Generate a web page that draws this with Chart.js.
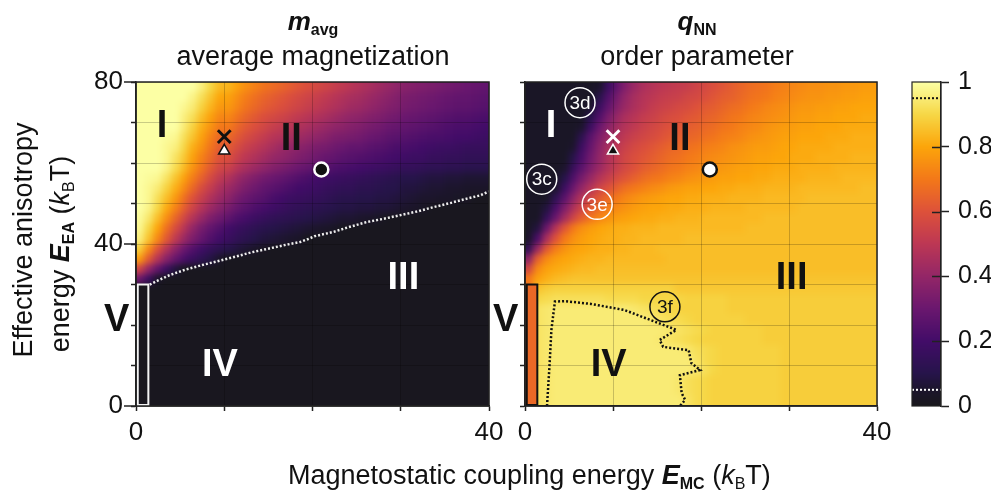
<!DOCTYPE html>
<html>
<head>
<meta charset="utf-8">
<title>Phase diagram</title>
<script src="https://cdn.jsdelivr.net/npm/chart.js@4.4.1/dist/chart.umd.min.js"></script>
<style>
  html, body { margin: 0; background: #fff; }
  #fig { position: relative; width: 998px; height: 495px; overflow: hidden;
         font-family: "Liberation Sans", Arial, sans-serif; color: #111; }
  #fig canvas { position: absolute; left: 0; top: 0; }
  .txt { position: absolute; white-space: nowrap; line-height: 30px; font-size: 27px; }
  .ctr { width: 400px; text-align: center; }
  .rot { transform: translate(-50%, -50%) rotate(-90deg); }
  .txt sub { font-size: 16px; line-height: 0; vertical-align: -5px; }
</style>
</head>
<body>
<div id="fig">
  <canvas id="mavgChart" width="998" height="495"></canvas>
  <canvas id="qnnChart" width="998" height="495"></canvas>
  <canvas id="cbarChart" width="998" height="495"></canvas>

  <div class="txt ctr" style="left:113px; top:6px; font-size:26px;"><b><i>m</i><sub>avg</sub></b></div>
  <div class="txt ctr" style="left:113px; top:41px;">average magnetization</div>
  <div class="txt ctr" style="left:497px; top:6px; font-size:26px;"><b><i>q</i><sub>NN</sub></b></div>
  <div class="txt ctr" style="left:497px; top:41px;">order parameter</div>
  <div class="txt rot" style="left:23px; top:240px;">Effective anisotropy</div>
  <div class="txt rot" style="left:60px; top:254px;">energy <b><i>E</i><sub>EA</sub></b> (<i>k</i><sub>B</sub>T)</div>
  <div class="txt" style="left:288px; top:460px;">Magnetostatic coupling energy <b><i>E</i><sub>MC</sub></b> (<i>k</i><sub>B</sub>T)</div>
</div>

<script>
const FONT = '"Liberation Sans", Arial, sans-serif';

// simulation grid: cell edges along E_MC and E_EA (kBT)
const mcEdges = [0,1,2,3,4,5,6,7,8,9,10,11,12,13,14,15,16,17,18,19,20,
                 21,22,23,24,25,26,27,28,29,30,31,32,33,34,35,36,37,38,39,40];
const eaEdges = [80,77.5,75,72.5,70,67.5,65,62.5,60,57.5,55,52.5,50,47.5,45,42.5,
                 40,37.5,35,32.5,30,27.5,25,22.5,20,17.5,15,12.5,10,7.5,5,2.5,0];

// m_avg in percent, one row per E_EA band (top row = 80..77.5)
const mAvgRows = [
  [100,100,100,100,100,100,100,96,90,84,83,79,75,72,69,67,65,63,61,59,57,55,53,51,49,47,45,43,41,39,37,36,35,34,33,32,31,30,29,28],
  [100,100,100,100,100,100,97,92,86,80,79,75,71,68,65,63,61,59,57,55,53,51,49,47,45,44,42,40,38,36,34,33,32,31,30,29,28,28,27,26],
  [100,100,100,100,100,98,95,89,83,77,77,73,69,66,63,61,59,57,55,53,51,49,47,45,43,42,40,38,36,35,33,32,31,30,29,28,27,27,26,25],
  [100,100,100,100,100,96,92,85,79,73,73,69,65,62,59,57,55,53,51,49,47,45,43,41,39,38,36,35,33,32,30,29,28,27,26,25,24,24,23,22],
  [100,100,100,100,100,95,89,82,76,70,70,66,62,59,56,53,51,49,47,45,43,41,39,38,36,35,33,32,30,29,28,27,26,25,24,23,22,22,21,20],
  [100,100,100,99,98,92,86,79,72,66,66,62,58,55,52,49,47,45,43,41,39,37,35,34,33,32,30,29,27,26,25,24,23,22,22,21,20,20,19,18],
  [100,100,100,98,96,90,82,76,69,63,62,58,54,51,48,45,42,40,38,36,34,33,31,30,28,28,26,25,24,22,22,21,20,19,18,18,17,16,16,16],
  [100,100,100,98,93,87,79,72,66,60,59,54,50,47,44,41,39,37,35,33,31,29,28,26,25,24,23,22,21,20,19,18,18,16,16,15,15,14,14,14],
  [100,100,100,97,91,84,76,69,62,56,54,49,45,42,39,36,34,32,30,28,26,25,23,22,21,20,19,18,17,16,15,15,14,13,13,12,12,11,11,11],
  [100,99,98,93,86,79,71,64,57,51,47,42,38,35,32,30,28,26,24,22,20,19,18,17,16,15,14,13,12,11,10,10,9,8,8,7,7,6,6,6],
  [100,98,95,89,82,74,66,58,52,46,42,38,34,31,28,26,24,22,20,19,18,16,15,14,14,12,12,11,10,10,8,8,7,6,6,5,5,4,4,4],
  [100,98,92,85,77,68,60,53,47,42,38,33,30,27,25,22,20,18,17,16,15,14,12,11,11,10,10,9,9,8,7,6,5,5,4,4,3,3,1,1],
  [100,97,90,81,72,63,55,48,42,37,33,29,26,23,21,19,17,15,14,13,12,11,10,9,9,8,8,7,7,6,5,4,3,1,1,1,1,1,1,1],
  [99,94,85,75,65,56,48,41,35,31,27,23,21,18,16,14,13,12,11,10,9,8,7,6,6,5,4,3,1,1,1,1,1,1,1,1,1,1,1,1],
  [98,90,80,68,58,49,40,33,28,24,20,17,15,13,11,10,9,8,7,6,5,4,3,1,1,1,1,1,1,1,1,1,1,1,1,1,1,1,1,1],
  [96,86,74,62,51,42,35,29,24,20,17,14,12,10,8,7,6,5,4,1,1,1,1,1,1,1,1,1,1,1,1,1,1,1,1,1,1,1,1,1],
  [88,74,60,48,38,30,24,19,15,12,10,8,6,4,2,1,1,1,1,1,1,1,1,1,1,1,1,1,1,1,1,1,1,1,1,1,1,1,1,1],
  [78,62,48,37,29,22,17,13,9,4,1,1,1,1,1,1,1,1,1,1,1,1,1,1,1,1,1,1,1,1,1,1,1,1,1,1,1,1,1,1],
  [55,40,28,18,8,1,1,1,1,1,1,1,1,1,1,1,1,1,1,1,1,1,1,1,1,1,1,1,1,1,1,1,1,1,1,1,1,1,1,1],
  [30,18,4,1,1,1,1,1,1,1,1,1,1,1,1,1,1,1,1,1,1,1,1,1,1,1,1,1,1,1,1,1,1,1,1,1,1,1,1,1],
  [1,1,1,1,1,1,1,1,1,1,1,1,1,1,1,1,1,1,1,1,1,1,1,1,1,1,1,1,1,1,1,1,1,1,1,1,1,1,1,1],
  [1,1,1,1,1,1,1,1,1,1,1,1,1,1,1,1,1,1,1,1,1,1,1,1,1,1,1,1,1,1,1,1,1,1,1,1,1,1,1,1],
  [1,1,1,1,1,1,1,1,1,1,1,1,1,1,1,1,1,1,1,1,1,1,1,1,1,1,1,1,1,1,1,1,1,1,1,1,1,1,1,1],
  [1,1,1,1,1,1,1,1,1,1,1,1,1,1,1,1,1,1,1,1,1,1,1,1,1,1,1,1,1,1,1,1,1,1,1,1,1,1,1,1],
  [1,1,1,1,1,1,1,1,1,1,1,1,1,1,1,1,1,1,1,1,1,1,1,1,1,1,1,1,1,1,1,1,1,1,1,1,1,1,1,1],
  [1,1,1,1,1,1,1,1,1,1,1,1,1,1,1,1,1,1,1,1,1,1,1,1,1,1,1,1,1,1,1,1,1,1,1,1,1,1,1,1],
  [1,1,1,1,1,1,1,1,1,1,1,1,1,1,1,1,1,1,1,1,1,1,1,1,1,1,1,1,1,1,1,1,1,1,1,1,1,1,1,1],
  [1,1,1,1,1,1,1,1,1,1,1,1,1,1,1,1,1,1,1,1,1,1,1,1,1,1,1,1,1,1,1,1,1,1,1,1,1,1,1,1],
  [1,1,1,1,1,1,1,1,1,1,1,1,1,1,1,1,1,1,1,1,1,1,1,1,1,1,1,1,1,1,1,1,1,1,1,1,1,1,1,1],
  [1,1,1,1,1,1,1,1,1,1,1,1,1,1,1,1,1,1,1,1,1,1,1,1,1,1,1,1,1,1,1,1,1,1,1,1,1,1,1,1],
  [1,1,1,1,1,1,1,1,1,1,1,1,1,1,1,1,1,1,1,1,1,1,1,1,1,1,1,1,1,1,1,1,1,1,1,1,1,1,1,1],
  [1,1,1,1,1,1,1,1,1,1,1,1,1,1,1,1,1,1,1,1,1,1,1,1,1,1,1,1,1,1,1,1,1,1,1,1,1,1,1,1]
];

// q_NN in percent, same grid
const qNNRows = [
  [3,3,3,3,3,3,3,3,5,18,28,36,42,46,48,50,51,52,53,55,57,59,61,63,65,67,68,69,71,72,73,74,75,75,76,76,77,77,78,78],
  [3,3,3,3,3,3,3,3,11,24,33,40,45,48,50,52,53,54,56,57,59,61,63,64,66,68,69,70,72,73,74,75,76,76,77,77,78,78,79,79],
  [3,3,3,3,3,3,3,5,18,28,36,42,46,49,52,54,55,57,58,60,62,63,65,67,68,70,71,73,74,75,76,77,77,78,78,79,79,80,80,80],
  [3,3,3,3,3,3,3,11,24,34,41,46,49,52,54,56,58,59,61,62,64,65,67,69,70,72,73,74,75,76,77,78,78,79,79,80,80,80,81,81],
  [3,3,3,3,3,3,5,18,30,38,44,48,51,54,56,58,60,61,63,64,66,67,69,70,72,73,74,76,77,78,78,79,79,80,80,80,81,81,81,81],
  [3,3,3,3,3,3,12,26,35,42,47,51,54,56,58,60,62,63,65,66,68,69,71,72,73,75,76,77,78,79,79,80,80,80,81,81,81,82,82,82],
  [3,3,3,3,3,5,18,29,38,45,50,54,57,59,61,63,65,66,68,69,71,72,73,75,76,77,78,78,79,80,80,81,81,81,81,82,82,82,82,82],
  [3,3,3,3,3,10,22,32,40,47,52,56,59,61,63,65,67,68,70,71,73,74,75,76,77,78,79,79,80,80,81,81,81,82,82,82,82,83,83,83],
  [3,3,3,3,5,16,26,35,42,48,53,57,60,63,65,67,69,70,72,73,75,76,77,78,79,79,80,80,81,81,81,82,82,82,82,83,83,83,83,83],
  [3,3,3,3,10,23,33,41,48,53,58,61,64,67,69,70,72,73,75,76,77,78,79,79,80,80,81,81,82,82,82,82,83,83,83,83,84,84,84,84],
  [3,3,3,5,18,30,40,48,55,60,64,68,70,72,74,75,77,78,79,79,80,80,81,81,82,82,82,83,83,83,83,84,84,84,84,84,84,84,85,85],
  [3,3,3,13,26,38,48,56,62,67,70,73,75,77,78,79,80,80,81,81,82,82,82,83,83,83,83,84,84,84,84,84,85,85,85,85,85,85,85,85],
  [3,3,8,22,35,46,55,62,67,71,74,76,78,79,80,80,81,81,82,82,82,83,83,83,83,84,84,84,84,84,84,85,85,85,85,85,85,85,85,85],
  [3,3,15,30,44,55,63,69,73,76,78,79,80,81,81,82,82,83,83,83,84,84,84,84,84,84,84,85,85,85,85,85,85,85,85,85,85,85,85,85],
  [3,8,30,48,61,70,75,78,80,81,82,82,83,83,83,84,84,84,84,84,84,84,84,84,84,85,85,85,85,85,85,85,85,85,85,85,85,85,85,85],
  [4,22,45,60,70,75,78,80,81,82,82,83,83,84,84,84,84,84,85,85,85,85,85,85,85,85,85,85,85,85,85,85,85,85,85,85,85,85,85,85],
  [14,42,62,71,76,79,80,81,82,82,83,83,84,84,84,85,85,85,85,85,85,85,85,85,85,85,85,85,85,85,85,85,85,85,85,85,85,85,85,85],
  [38,64,74,78,80,81,82,83,83,84,84,84,84,84,84,84,85,85,85,85,85,85,85,85,85,85,85,85,85,85,85,85,85,85,85,85,85,85,85,85],
  [56,74,79,81,82,83,84,84,85,85,85,85,85,85,85,85,85,85,85,85,85,85,85,85,85,85,85,85,85,85,85,85,85,85,85,85,85,85,85,85],
  [70,79,82,84,85,86,86,86,86,86,86,86,86,86,86,86,86,86,86,86,86,86,86,86,86,86,86,86,86,86,86,86,86,86,86,86,86,86,86,86],
  [66,86,88,89,89,89,89,89,89,89,89,89,89,89,89,89,89,87,87,87,87,87,87,87,87,87,87,87,87,87,87,87,87,87,87,87,87,87,87,87],
  [66,90,91,92,92,92,92,92,92,91,91,91,91,90,90,90,90,90,89,89,89,89,89,88,88,88,88,88,88,88,88,88,88,88,88,88,88,88,88,88],
  [66,93,94,95,95,95,95,95,95,95,95,95,94,93,92,91,90,89,89,89,89,89,89,88,88,88,88,88,88,88,88,88,88,88,88,88,88,88,88,88],
  [66,93,94,95,95,95,95,95,95,95,95,95,95,95,94,93,92,91,90,89,89,89,89,89,89,88,88,88,88,88,88,88,88,88,88,88,88,88,88,88],
  [66,93,94,95,95,95,95,95,95,95,95,95,95,95,95,95,94,93,92,91,90,89,89,89,89,89,89,88,88,88,88,88,88,88,88,88,88,88,88,88],
  [66,93,94,95,95,95,95,95,95,95,95,95,95,95,95,94,93,92,91,90,89,89,89,89,89,89,89,88,88,88,88,88,88,88,88,88,88,88,88,88],
  [66,93,94,95,95,95,95,95,95,95,95,95,95,95,95,95,95,95,94,92,91,90,89,89,89,89,89,89,89,88,88,88,88,88,88,88,88,88,88,88],
  [66,93,94,95,95,95,95,95,95,95,95,95,95,95,95,95,95,95,95,93,91,90,89,89,89,89,89,89,89,88,88,88,88,88,88,88,88,88,88,88],
  [66,93,94,95,95,95,95,95,95,95,95,95,95,95,95,95,95,95,95,94,92,90,89,89,89,89,89,89,89,88,88,88,88,88,88,88,88,88,88,88],
  [66,93,94,95,95,95,95,95,95,95,95,95,95,95,95,95,95,94,92,91,90,89,89,89,89,89,89,89,89,88,88,88,88,88,88,88,88,88,88,88],
  [66,93,94,95,95,95,95,95,95,95,95,95,95,95,95,95,95,94,92,91,90,89,89,89,89,89,89,89,89,88,88,88,88,88,88,88,88,88,88,88],
  [66,93,94,95,95,95,95,95,95,95,95,95,95,95,95,95,95,95,93,91,90,89,89,89,89,89,89,89,89,88,88,88,88,88,88,88,88,88,88,88]
];

// phase boundary II/III (white dotted, left) and boundary of IV (black dotted, right)
const bound3MC = [0.3, 0.8, 1.5, 2.5, 3.8, 5.5, 7.5, 9.5, 11.3, 13, 15.1, 17, 18.6, 19.6, 20.2, 22.4, 24, 26.1, 28, 29.9, 32, 33.7, 35.6, 37.5, 39, 40];
const bound3EA = [27.2, 28.8, 29.9, 31.0, 32.3, 33.6, 34.8, 35.9, 36.9, 37.9, 38.9, 39.8, 40.5, 41.3, 41.9, 43.0, 44.1, 45.4, 46.2, 47.1, 48.1, 49.1, 50.1, 51.2, 52.0, 53.0];
const bound4MC = [2.5, 2.8, 3.0, 3.4, 4.5, 7.5, 11.3, 14.3, 17.2, 15.3, 15.7, 18.6, 18.9, 19.9, 17.6, 17.8, 18.2, 17.6];
const bound4EA = [0, 10.5, 18.8, 25.8, 25.9, 25.2, 23.7, 21.2, 18.8, 16.3, 14.6, 13.8, 10.6, 8.9, 7.6, 3.2, 1.5, 0];

// marked parameter sets: cross, triangle, circle
const markerMC = [10, 10, 21];
const markerEA = [66.5, 63, 58.4];

// region V strip and its value (percent) in each map
const boxVMC = [0.2, 1.4];
const boxVEA = [0, 30];
const boxVValue = [1, 66];

// region names and snapshot labels
const phaseNames = ['I', 'II', 'III', 'IV', 'V'];
const phaseMC = [2.95, 17.6, 30.3, 9.5, -2.2];
const phaseEA = [69.1, 65.9, 31.6, 9.9, 21];
const snapNames = ['3c', '3d', '3e', '3f'];
const snapMC = [1.9, 6.25, 8.2, 15.9];
const snapEA = [56.0, 74.9, 49.8, 24.5];

// labelled y ticks (drawn longer than the minor ones)
const majorEA = [0, 40, 80];

// colour bar
const cbarTicks = [0, 0.2, 0.4, 0.6, 0.8, 1];
const phaseThresholds = [0.05, 0.95];

// inferno-like colour map
const cmapStops = [0, 0.05, 0.1, 0.2, 0.3, 0.4, 0.5, 0.6, 0.7, 0.8, 0.9, 1];
const cmapRGB = [
  [24, 23, 28], [28, 21, 44], [38, 20, 74], [66, 12, 104], [106, 23, 110],
  [147, 38, 103], [188, 55, 84], [221, 81, 58], [243, 120, 25], [252, 165, 10],
  [246, 215, 70], [252, 255, 164]
];

function cmap(v) {
  v = Math.min(1, Math.max(0, v));
  let i = 1;
  while (i < cmapStops.length - 1 && v > cmapStops[i]) i++;
  const t = (v - cmapStops[i - 1]) / (cmapStops[i] - cmapStops[i - 1]);
  const a = cmapRGB[i - 1], b = cmapRGB[i];
  const c = a.map((ch, k) => Math.round(ch + (b[k] - ch) * t));
  return `rgb(${c[0]},${c[1]},${c[2]})`;
}

// cells are painted to an offscreen canvas, then laid under the grid
function heatmapLayer(rows) {
  return {
    id: 'heatmap',
    beforeDraw(chart) {
      const { ctx, chartArea: a, scales: { x, y } } = chart;
      const off = document.createElement('canvas');
      off.width = chart.width;
      off.height = chart.height;
      const o = off.getContext('2d');
      rows.forEach((row, r) => {
        let top = y.getPixelForValue(eaEdges[r]);
        let bot = y.getPixelForValue(eaEdges[r + 1]);
        if (r === 0) top -= 12;
        if (r === rows.length - 1) bot += 12;
        row.forEach((v, c) => {
          let left = x.getPixelForValue(mcEdges[c]);
          let right = x.getPixelForValue(mcEdges[c + 1]);
          if (c === 0) left -= 12;
          if (c === row.length - 1) right += 12;
          o.fillStyle = cmap(v / 100);
          o.fillRect(Math.floor(left), Math.floor(top),
                     Math.ceil(right) - Math.floor(left), Math.ceil(bot) - Math.floor(top));
        });
      });
      ctx.save();
      ctx.beginPath();
      ctx.rect(a.left, a.top, a.right - a.left, a.bottom - a.top);
      ctx.clip();
      ctx.filter = 'blur(3px)';
      ctx.drawImage(off, 0, 0);
      ctx.restore();
    }
  };
}

function overlayLayer(cfg) {
  return {
    id: 'overlay',
    afterDraw(chart) {
      const { ctx, chartArea: a, scales: { x, y } } = chart;
      ctx.save();

      // strip V
      const bx0 = x.getPixelForValue(boxVMC[0]), bx1 = x.getPixelForValue(boxVMC[1]);
      const by0 = y.getPixelForValue(boxVEA[1]), by1 = y.getPixelForValue(boxVEA[0]);
      ctx.fillStyle = cmap(cfg.boxValue / 100);
      ctx.fillRect(bx0, by0, bx1 - bx0, by1 - by0);
      ctx.strokeStyle = cfg.boxColor;
      ctx.lineWidth = 2;
      ctx.strokeRect(bx0, by0, bx1 - bx0, by1 - by0 - 1);

      // frame and long ticks at the labelled values
      ctx.strokeStyle = '#222';
      ctx.lineWidth = 1.5;
      ctx.strokeRect(a.left, a.top, a.right - a.left, a.bottom - a.top);
      if (cfg.majorTick) {
        majorEA.forEach(v => {
          const py = y.getPixelForValue(v);
          ctx.beginPath();
          ctx.moveTo(a.left - cfg.majorTick, py);
          ctx.lineTo(a.left, py);
          ctx.stroke();
        });
      }

      // region numerals
      ctx.font = 'bold 38px ' + FONT;
      ctx.textAlign = 'center';
      ctx.textBaseline = 'middle';
      phaseNames.forEach((n, i) => {
        ctx.fillStyle = cfg.phaseColors[i];
        ctx.fillText(n, x.getPixelForValue(phaseMC[i]), y.getPixelForValue(phaseEA[i]));
      });

      // snapshot labels
      if (cfg.snapColors) {
        ctx.font = '19px ' + FONT;
        ctx.lineWidth = 1.5;
        snapNames.forEach((n, i) => {
          const px = x.getPixelForValue(snapMC[i]), py = y.getPixelForValue(snapEA[i]);
          ctx.strokeStyle = cfg.snapColors[i];
          ctx.fillStyle = cfg.snapColors[i];
          ctx.beginPath();
          ctx.arc(px, py, 15, 0, Math.PI * 2);
          ctx.stroke();
          ctx.fillText(n, px, py + 1);
        });
      }
      ctx.restore();
    }
  };
}

function points(xs, ys) {
  return xs.map((v, i) => ({ x: v, y: ys[i] }));
}

function markerSets(ink, paper) {
  return [
    { data: [{ x: markerMC[0], y: markerEA[0] }], pointStyle: 'crossRot', pointRadius: 9,
      borderColor: ink, borderWidth: 3 },
    { data: [{ x: markerMC[1], y: markerEA[1] }], pointStyle: 'triangle', pointRadius: 6.5,
      backgroundColor: paper, borderColor: ink, borderWidth: 1.5 },
    { data: [{ x: markerMC[2], y: markerEA[2] }], pointStyle: 'circle', pointRadius: 7,
      backgroundColor: ink, borderColor: paper, borderWidth: 2.5 }
  ];
}

function axisGrid() {
  return { color: 'rgba(0,0,0,0.2)', lineWidth: 1, tickLength: 5, tickColor: '#222', tickWidth: 1.5 };
}

function panelOptions(padLeft, padRight, showY) {
  return {
    responsive: false,
    animation: false,
    events: [],
    layout: { padding: { left: padLeft, right: padRight, top: 82, bottom: 49 } },
    plugins: { legend: { display: false }, tooltip: { enabled: false } },
    scales: {
      x: {
        type: 'linear', min: 0, max: 40,
        afterFit: s => { s.height = 40; },
        ticks: {
          stepSize: 10, autoSkip: false, maxRotation: 0, padding: 6, color: '#111',
          font: { family: FONT, size: 26 },
          callback: v => (v === 0 || v === 40 ? String(v) : '')
        },
        grid: axisGrid(),
        border: { color: '#222', width: 1.5 }
      },
      y: {
        type: 'linear', min: 0, max: 80,
        afterFit: s => { s.width = 50; },
        ticks: {
          stepSize: 10, autoSkip: false, padding: 8, color: '#111',
          font: { family: FONT, size: 26 },
          callback: v => (showY && v % 40 === 0 ? String(v) : '')
        },
        grid: axisGrid(),
        border: { color: '#222', width: 1.5 }
      }
    }
  };
}

const dotted = { showLine: true, pointRadius: 0, borderWidth: 2.5, borderDash: [2, 2] };

new Chart(document.getElementById('mavgChart'), {
  type: 'scatter',
  data: {
    datasets: [
      Object.assign({ data: points(bound3MC, bound3EA), borderColor: '#eeeeee' }, dotted),
      ...markerSets('#111', '#fff')
    ]
  },
  options: panelOptions(86, 509, true),
  plugins: [
    heatmapLayer(mAvgRows),
    overlayLayer({ boxValue: boxVValue[0], boxColor: '#f4f4f4', majorTick: 12,
                   phaseColors: ['#111', '#111', '#fff', '#fff', '#111'] })
  ]
});

new Chart(document.getElementById('qnnChart'), {
  type: 'scatter',
  data: {
    datasets: [
      Object.assign({ data: points(bound4MC, bound4EA), borderColor: '#111' }, dotted),
      ...markerSets('#fff', '#111')
    ]
  },
  options: panelOptions(475, 121, false),
  plugins: [
    heatmapLayer(qNNRows),
    overlayLayer({ boxValue: boxVValue[1], boxColor: '#111',
                   phaseColors: ['#fff', '#111', '#111', '#111', '#111'],
                   snapColors: ['#fff', '#fff', '#fff', '#111'] })
  ]
});

const colorbarLayer = {
  id: 'colorbar',
  beforeDraw(chart) {
    const { ctx, chartArea: a, scales: { y } } = chart;
    for (let py = Math.floor(a.top); py < a.bottom; py++) {
      ctx.fillStyle = cmap(y.getValueForPixel(py + 0.5));
      ctx.fillRect(a.left, py, a.right - a.left, 1);
    }
  },
  afterDraw(chart) {
    const { ctx, chartArea: a, scales: { y } } = chart;
    ctx.save();
    ctx.strokeStyle = '#222';
    ctx.lineWidth = 1.5;
    cbarTicks.forEach(t => {
      if (t <= 0 || t >= 1) return;
      const py = Math.round(y.getPixelForValue(t)) + 0.5;
      ctx.beginPath();
      ctx.moveTo(a.right - 9, py);
      ctx.lineTo(a.right, py);
      ctx.stroke();
    });
    ctx.lineWidth = 1.2;
    ctx.strokeRect(a.left, a.top, a.right - a.left, a.bottom - a.top);
    ctx.restore();
  }
};

new Chart(document.getElementById('cbarChart'), {
  type: 'scatter',
  data: {
    datasets: phaseThresholds.map((t, i) => Object.assign({
      data: [{ x: 0, y: t }, { x: 1, y: t }],
      borderColor: i === 0 ? '#fff' : '#111'
    }, dotted, { borderWidth: 2 }))
  },
  options: {
    responsive: false,
    animation: false,
    events: [],
    layout: { padding: { left: 912, right: 7, top: 82, bottom: 89 } },
    plugins: { legend: { display: false }, tooltip: { enabled: false } },
    scales: {
      x: { type: 'linear', min: 0, max: 1, display: false },
      y: {
        type: 'linear', position: 'right', min: 0, max: 1,
        afterFit: s => { s.width = 50; },
        afterBuildTicks: s => { s.ticks = cbarTicks.map(v => ({ value: v })); },
        ticks: {
          padding: 9, color: '#111', font: { family: FONT, size: 25 },
          callback: v => String(+v.toFixed(1))
        },
        grid: { drawOnChartArea: false, tickLength: 8, tickColor: '#222', tickWidth: 1.5 },
        border: { color: '#222', width: 1.2 }
      }
    }
  },
  plugins: [colorbarLayer]
});
</script>
</body>
</html>
